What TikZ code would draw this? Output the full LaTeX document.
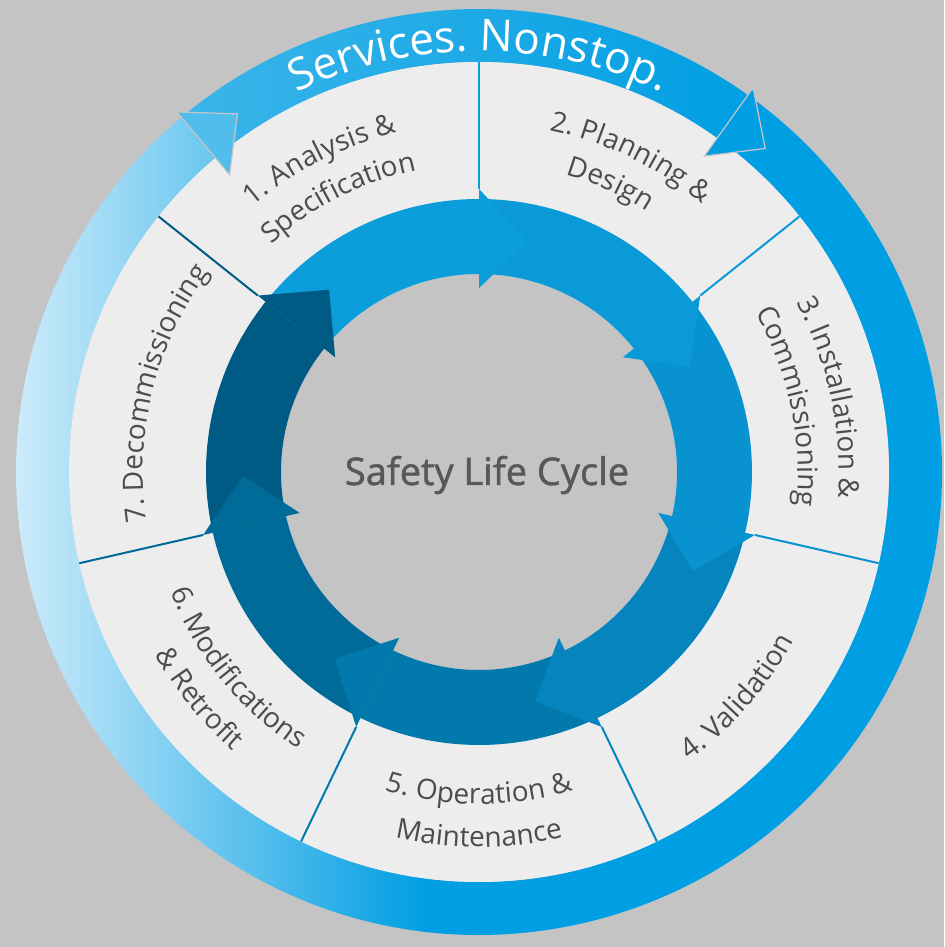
\documentclass[tikz,border=0pt]{standalone}
\usepackage{fontspec}
\setmainfont{Open Sans}
\newfontfamily\titlefont{Open Sans}[FakeBold=1.4]
\usetikzlibrary{decorations.text}

\definecolor{bggray}{HTML}{C4C4C4}
\definecolor{sectgray}{HTML}{EDEDED}
\definecolor{labelgray}{HTML}{4C4C4C}
\definecolor{titlegray}{HTML}{585858}
\definecolor{ringblue}{HTML}{009FE3}
\definecolor{ringpale}{HTML}{D4EEFB}
\definecolor{phaseA}{HTML}{0C9DDB}
\definecolor{phaseB}{HTML}{0A9AD8}
\definecolor{phaseC}{HTML}{0892CF}
\definecolor{phaseD}{HTML}{0584BD}
\definecolor{phaseE}{HTML}{0279AD}
\definecolor{phaseF}{HTML}{006A98}
\definecolor{phaseG}{HTML}{005B84}

% pale on the left, full blue from a bit before the middle
\pgfdeclarehorizontalshading{ringfade}{100bp}{color(0bp)=(ringpale); color(25bp)=(ringpale); color(46bp)=(ringblue); color(100bp)=(ringblue)}

\newcommand\lblfont{\fontsize{14}{14}\selectfont}

\tikzset{
  lbl/.style={decorate, decoration={text along path, text align=center,
      text={|\lblfont\color{labelgray}|#1}}},
  ringhead/.style={draw=white!55!gray, line width=0.6pt},
  divider/.style={line width=1pt},
}

\begin{document}
\begin{tikzpicture}[x=0.5pt, y=0.5pt]
\useasboundingbox (-479,-475) rectangle (465,472);
\fill[bggray] (-479,-475) rectangle (465,472);

% Outer ring: long faded arc plus the top band
\shade[shading=ringfade] (54.5:410) -- (54.5:463)
  arc[start angle=54.5, end angle=-230, radius=463] -- (-230:410)
  arc[start angle=-230, end angle=54.5, radius=410] -- cycle;
\shade[left color=ringblue!72!ringpale, right color=ringblue] (130:410) -- (130:463)
  arc[start angle=130, end angle=54.5, radius=463] -- (54.5:410)
  arc[start angle=54.5, end angle=130, radius=410] -- cycle;

% Phase sectors and the middle disc
\fill[sectgray] (0,0) circle (410);
\fill[bggray] (0,0) circle (198);

% Inner arrow ring, one band per phase
\foreach \k/\col in {1/phaseA, 2/phaseB, 3/phaseC, 4/phaseD, 5/phaseE, 6/phaseF, 7/phaseG} {
  \pgfmathsetmacro\e{90-(\k-1)*360/7}
  \pgfmathsetmacro\s{\e+360/7}
  \fill[\col] (\s:198) -- (\s:273) arc[start angle=\s, end angle=\e, radius=273]
    -- (\e:198) arc[start angle=\e, end angle=\s, radius=198] -- cycle;
}
% Arrow heads and sector dividers
\foreach \k/\col in {1/phaseA, 2/phaseB, 3/phaseC, 4/phaseD, 5/phaseE, 6/phaseF, 7/phaseG} {
  \pgfmathsetmacro\e{90-(\k-1)*360/7}
  \pgfmathsetmacro\t{\e-12}
  \fill[\col] (\e:184) -- (\e:283) -- (\t:236) -- cycle;
  \draw[divider, \col] (\e:283) -- (\e:410);
}

% Heads of the outer ring
\filldraw[ringhead, fill=ringblue] (54.5:388) -- (54.5:472) -- (48.5:432) -- cycle;
\filldraw[ringhead, fill=ringblue!62!ringpale] (130:388) -- (130:470) -- (124:432) -- cycle;

% Ring text
\path[decorate, decoration={text along path, text align=center,
    text={|\fontsize{22}{22}\selectfont\color{white}|Services. Nonstop.}}]
  (130:421) arc[start angle=130, end angle=50, radius=421];

% Phase labels
\path[lbl={1. Analysis {\&}}] (152:349) arc[start angle=152, end angle=82, radius=349];
\path[lbl={Specification}] (152:308) arc[start angle=152, end angle=82, radius=308];
\path[lbl={2. Planning {\&}}] (99.3:349) arc[start angle=99.3, end angle=29.3, radius=349];
\path[lbl={Design}] (100.5:310) arc[start angle=100.5, end angle=30.5, radius=310];
\path[lbl={3. Installation {\&}}] (47:360) arc[start angle=47, end angle=-23, radius=360];
\path[lbl={Commissioning}] (47:319) arc[start angle=47, end angle=-23, radius=319];
\path[lbl={4. Validation}] (-76:357) arc[start angle=-76, end angle=-6, radius=357];
\path[lbl={5. Operation {\&}}] (-125:332) arc[start angle=-125, end angle=-55, radius=332];
\path[lbl={Maintenance}] (-125:375) arc[start angle=-125, end angle=-55, radius=375];
\path[lbl={6. Modifications}] (-176:331) arc[start angle=-176, end angle=-106, radius=331];
\path[lbl={{\&} Retrofit}] (-176:372) arc[start angle=-176, end angle=-106, radius=372];
\path[lbl={7. Decommissioning}] (201:336) arc[start angle=201, end angle=131, radius=336];

\node[font=\titlefont\fontsize{19}{19}\selectfont, text=titlegray] (title) at (8,-3) {Safety Life Cycle};
\end{tikzpicture}
\end{document}
